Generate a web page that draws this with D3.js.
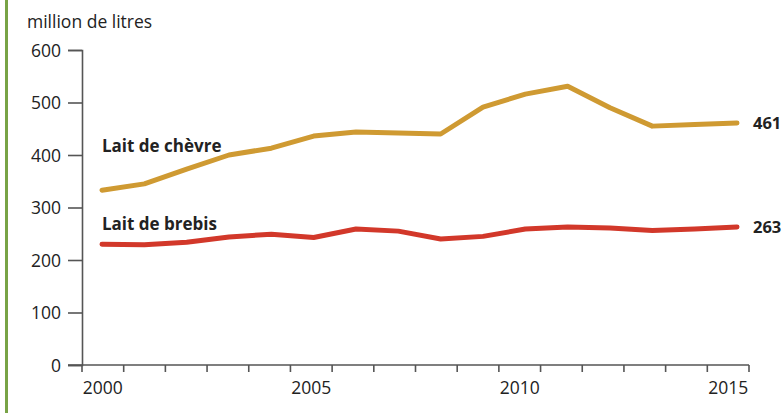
<!DOCTYPE html>
<html>
<head>
<meta charset="utf-8">
<script src="https://cdn.jsdelivr.net/npm/d3@7"></script>
<style>
	body { margin: 0; background: #fff; }
	svg { display: block; font-family: "Open Sans", sans-serif; }
	.axis path, .axis line { stroke: #555; stroke-width: 1.6; }
	.axis text { fill: #222; font-size: 17.5px; font-family: "Open Sans", sans-serif; }
</style>
</head>
<body>
<svg id="chart" width="784" height="413"></svg>
<script>
// data
const years = d3.range(2000, 2016);
const chevre = [333, 345, 373, 400, 413, 436, 444, 442, 440, 491, 516, 531, 490, 455, 458, 461];
const brebis = [230, 229, 234, 244, 249, 243, 259, 255, 240, 245, 259, 263, 261, 256, 259, 263];
const yTicks = [0, 100, 200, 300, 400, 500, 600];
const xLabels = [2000, 2005, 2010, 2015];

const svg = d3.select("#chart");

// green bar at the left edge
svg.append("rect").attr("x", 5).attr("y", 0).attr("width", 3).attr("height", 413).attr("fill", "#78a346");

// scales
const y = d3.scaleLinear().domain([0, 600]).range([365, 50]);
const xBand = d3.scaleBand().domain(years).range([82, 749]);
const x = d3.scalePoint().domain(years).range([102, 737]);

// y axis
const yAxis = svg.append("g")
	.attr("class", "axis")
	.attr("transform", "translate(82,0)")
	.call(d3.axisLeft(y).tickValues(yTicks).tickSize(14).tickPadding(7));
yAxis.selectAll("text").attr("dy", "0.36em");

// x axis : ticks at year boundaries, labels centred in the band
const xAxis = svg.append("g")
	.attr("class", "axis")
	.attr("transform", "translate(0,365)");
xAxis.append("line").attr("x1", 68).attr("x2", 749).attr("y1", 0).attr("y2", 0);
xAxis.selectAll("line.tick")
	.data(years.concat([2016]))
	.enter()
	.append("line")
	.attr("class", "tick")
	.attr("x1", (d) => (d === 2016 ? xBand.range()[1] : xBand(d)))
	.attr("x2", (d) => (d === 2016 ? xBand.range()[1] : xBand(d)))
	.attr("y1", 0)
	.attr("y2", 7);
xAxis.selectAll("text")
	.data(xLabels)
	.enter()
	.append("text")
	.attr("x", (d) => xBand(d) + xBand.bandwidth() / 2)
	.attr("y", 28.5)
	.attr("text-anchor", "middle")
	.text((d) => d);

// unit
svg.append("text")
	.attr("x", 27)
	.attr("y", 28)
	.attr("font-size", "17.5px")
	.attr("fill", "#222")
	.text("million de litres");

// lines
const line = d3.line()
	.x((d, i) => x(years[i]))
	.y((d) => y(d));

const series = [
	{ name: "Lait de chèvre", values: chevre, color: "#cf9a32", labelY: 152 },
	{ name: "Lait de brebis", values: brebis, color: "#d2382a", labelY: 230 }
];

series.forEach((s) => {
	svg.append("path")
		.attr("d", line(s.values))
		.attr("fill", "none")
		.attr("stroke", s.color)
		.attr("stroke-width", 5)
		.attr("stroke-linejoin", "round")
		.attr("stroke-linecap", "round");

	svg.append("text")
		.attr("x", 102)
		.attr("y", s.labelY)
		.attr("font-size", "17px")
		.attr("font-weight", "bold")
		.attr("fill", "#222")
		.text(s.name);

	const last = s.values[s.values.length - 1];
	svg.append("text")
		.attr("x", 753)
		.attr("y", y(last))
		.attr("dy", "0.36em")
		.attr("font-size", "16.5px")
		.attr("font-weight", "bold")
		.attr("fill", "#222")
		.text(last);
});
</script>
</body>
</html>
